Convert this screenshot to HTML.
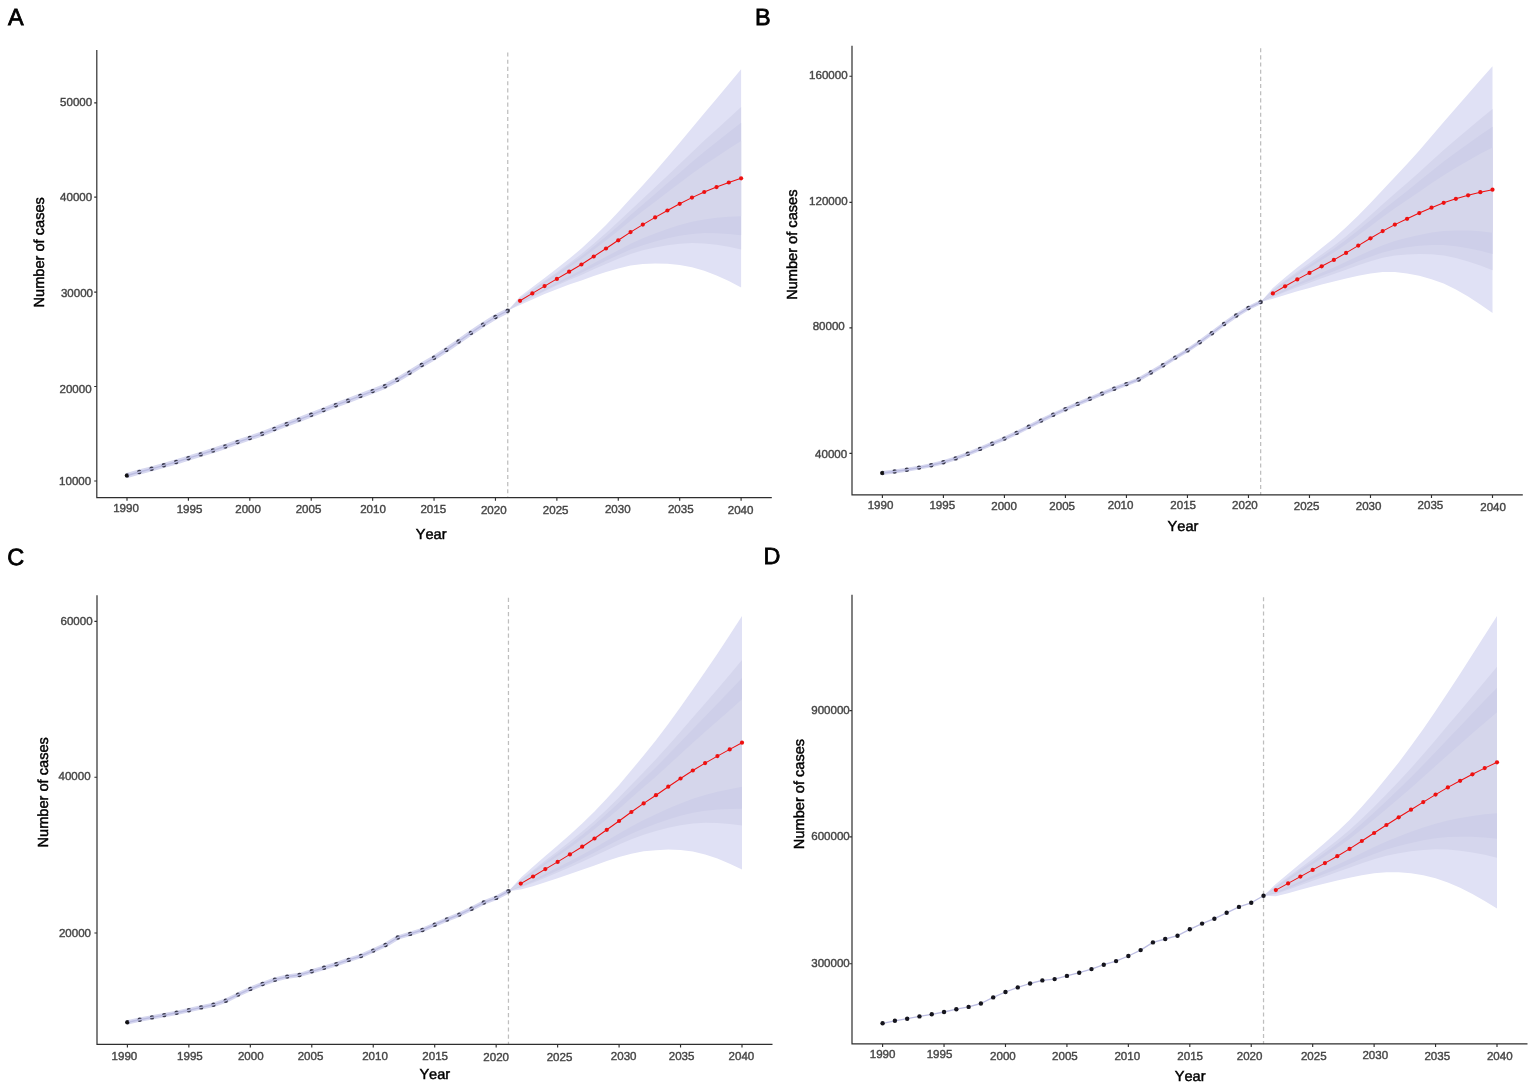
<!DOCTYPE html>
<html lang="en">
<head>
<meta charset="utf-8">
<title>Forecast of number of cases</title>
<style>
html,body{margin:0;padding:0;background:#fff;}
body{width:1535px;height:1089px;overflow:hidden;}
svg{display:block;font-family:'Liberation Sans', Arial, Helvetica, sans-serif;font-kerning:none;text-rendering:geometricPrecision;}
</style>
</head>
<body>
<svg width="1535" height="1089" viewBox="0 0 1535 1089">
<rect width="1535" height="1089" fill="#fff"/>
<g id="panelA">
<polygon fill="#e0e1f5" points="507.74,310.7 520.02,296.54 532.31,287.35 544.59,278.08 556.87,268.62 569.15,258.8 581.43,248.55 593.72,237.01 606,224.93 618.28,212.06 630.56,198.58 642.84,185.15 655.13,171.38 667.41,157.26 679.69,142.7 691.97,128.01 704.25,113.32 716.54,98.77 728.82,84 741.1,69.19 741.1,287.41 728.82,281 716.54,275.43 704.25,270.68 691.97,267.19 679.69,264.9 667.41,263.74 655.13,263.42 642.84,264.05 630.56,265.62 618.28,268.54 606,272.07 593.72,275.99 581.43,280.45 569.15,284.6 556.87,289.18 544.59,294.12 532.31,299.45 520.02,305.06 507.74,310.7"/>
<polygon fill="#d5d6ed" points="507.74,310.7 520.02,298.02 532.31,289.45 544.59,280.86 556.87,272.19 569.15,263.28 581.43,254.09 593.72,243.78 606,233.11 618.28,221.86 630.56,210.21 642.84,198.84 655.13,187.35 667.41,175.74 679.69,163.9 691.97,152.15 704.25,140.62 716.54,129.42 728.82,118.18 741.1,107.05 741.1,249.55 728.82,246.82 716.54,244.78 704.25,243.38 691.97,243.05 679.69,243.7 667.41,245.26 655.13,247.45 642.84,250.36 630.56,253.99 618.28,258.74 606,263.89 593.72,269.22 581.43,274.91 569.15,280.12 556.87,285.61 544.59,291.34 532.31,297.35 520.02,303.58 507.74,310.7"/>
<polygon fill="#cecfe9" points="507.74,310.7 520.02,298.63 532.31,290.32 544.59,282.01 556.87,273.66 569.15,265.12 581.43,256.37 593.72,246.56 606,236.48 618.28,225.9 630.56,215 642.84,204.48 655.13,193.93 667.41,183.35 679.69,172.64 691.97,162.11 704.25,151.87 716.54,142.05 728.82,132.27 741.1,122.65 741.1,235.26 728.82,233.91 716.54,233.21 704.25,233.07 691.97,233.93 679.69,235.7 667.41,238.29 655.13,241.42 642.84,245.19 630.56,249.6 618.28,255.04 606,260.8 593.72,266.67 581.43,272.82 569.15,278.43 556.87,284.27 544.59,290.29 532.31,296.56 520.02,303.02 507.74,310.7"/>
<polygon fill="#d5d6eb" points="507.74,310.7 520.02,299.34 532.31,291.33 544.59,283.36 556.87,275.38 569.15,267.29 581.43,259.05 593.72,249.84 606,240.44 618.28,230.64 630.56,220.64 642.84,211.11 655.13,201.66 667.41,192.29 679.69,182.9 691.97,173.8 704.25,165.09 716.54,156.89 728.82,148.81 741.1,140.98 741.1,216.27 728.82,216.78 716.54,217.84 704.25,219.38 691.97,221.82 679.69,225.06 667.41,229.03 655.13,233.41 642.84,238.33 630.56,243.77 618.28,250.13 606,256.7 593.72,263.28 581.43,270.05 569.15,276.19 556.87,282.48 544.59,288.89 532.31,295.5 520.02,302.28 507.74,310.7"/>
<polyline fill="none" stroke="#d7d8f0" stroke-width="5" stroke-linejoin="round" points="127,475.5 139.28,472 151.56,468.8 163.85,465.3 176.13,462 188.41,458.2 200.69,454.4 212.97,450.5 225.26,446.5 237.54,442.1 249.82,438 262.1,433.8 274.38,429 286.67,424.2 298.95,419.6 311.23,414.8 323.51,410 335.79,405.2 348.08,400.7 360.36,395.9 372.64,391.1 384.92,386.3 397.2,379.8 409.49,372.7 421.77,365 434.05,357.8 446.33,349.9 458.61,341.5 470.9,332.9 483.18,324.6 495.46,317 507.74,310.7"/>
<line x1="507.74" y1="52.5" x2="507.74" y2="497.7" stroke="#bebebe" stroke-width="1.25" stroke-dasharray="4.1 3.06"/>
<g fill="#3a3a4c"><circle cx="127" cy="475.5" r="2.2"/><circle cx="139.28" cy="472" r="2.2"/><circle cx="151.56" cy="468.8" r="2.2"/><circle cx="163.85" cy="465.3" r="2.2"/><circle cx="176.13" cy="462" r="2.2"/><circle cx="188.41" cy="458.2" r="2.2"/><circle cx="200.69" cy="454.4" r="2.2"/><circle cx="212.97" cy="450.5" r="2.2"/><circle cx="225.26" cy="446.5" r="2.2"/><circle cx="237.54" cy="442.1" r="2.2"/><circle cx="249.82" cy="438" r="2.2"/><circle cx="262.1" cy="433.8" r="2.2"/><circle cx="274.38" cy="429" r="2.2"/><circle cx="286.67" cy="424.2" r="2.2"/><circle cx="298.95" cy="419.6" r="2.2"/><circle cx="311.23" cy="414.8" r="2.2"/><circle cx="323.51" cy="410" r="2.2"/><circle cx="335.79" cy="405.2" r="2.2"/><circle cx="348.08" cy="400.7" r="2.2"/><circle cx="360.36" cy="395.9" r="2.2"/><circle cx="372.64" cy="391.1" r="2.2"/><circle cx="384.92" cy="386.3" r="2.2"/><circle cx="397.2" cy="379.8" r="2.2"/><circle cx="409.49" cy="372.7" r="2.2"/><circle cx="421.77" cy="365" r="2.2"/><circle cx="434.05" cy="357.8" r="2.2"/><circle cx="446.33" cy="349.9" r="2.2"/><circle cx="458.61" cy="341.5" r="2.2"/><circle cx="470.9" cy="332.9" r="2.2"/><circle cx="483.18" cy="324.6" r="2.2"/><circle cx="495.46" cy="317" r="2.2"/><circle cx="507.74" cy="310.7" r="2.2"/></g>
<polyline fill="none" stroke="#bcbde2" stroke-width="1.4" stroke-linejoin="round" points="127,475.5 139.28,472 151.56,468.8 163.85,465.3 176.13,462 188.41,458.2 200.69,454.4 212.97,450.5 225.26,446.5 237.54,442.1 249.82,438 262.1,433.8 274.38,429 286.67,424.2 298.95,419.6 311.23,414.8 323.51,410 335.79,405.2 348.08,400.7 360.36,395.9 372.64,391.1 384.92,386.3 397.2,379.8 409.49,372.7 421.77,365 434.05,357.8 446.33,349.9 458.61,341.5 470.9,332.9 483.18,324.6 495.46,317 507.74,310.7"/>
<circle cx="126.8" cy="475.5" r="1.85" fill="#111"/>
<polyline fill="none" stroke="#ee1111" stroke-width="1.05" points="520.02,300.8 532.31,293.4 544.59,286.1 556.87,278.9 569.15,271.7 581.43,264.5 593.72,256.5 606,248.5 618.28,240.3 630.56,232.1 642.84,224.6 655.13,217.4 667.41,210.5 679.69,203.8 691.97,197.6 704.25,192 716.54,187.1 728.82,182.5 741.1,178.3"/>
<g fill="#ee1111"><circle cx="520.02" cy="300.8" r="2.1"/><circle cx="532.31" cy="293.4" r="2.1"/><circle cx="544.59" cy="286.1" r="2.1"/><circle cx="556.87" cy="278.9" r="2.1"/><circle cx="569.15" cy="271.7" r="2.1"/><circle cx="581.43" cy="264.5" r="2.1"/><circle cx="593.72" cy="256.5" r="2.1"/><circle cx="606" cy="248.5" r="2.1"/><circle cx="618.28" cy="240.3" r="2.1"/><circle cx="630.56" cy="232.1" r="2.1"/><circle cx="642.84" cy="224.6" r="2.1"/><circle cx="655.13" cy="217.4" r="2.1"/><circle cx="667.41" cy="210.5" r="2.1"/><circle cx="679.69" cy="203.8" r="2.1"/><circle cx="691.97" cy="197.6" r="2.1"/><circle cx="704.25" cy="192" r="2.1"/><circle cx="716.54" cy="187.1" r="2.1"/><circle cx="728.82" cy="182.5" r="2.1"/><circle cx="741.1" cy="178.3" r="2.1"/></g>
<path d="M96.8 50V497.7H771.8" fill="none" stroke="#2e2e2e" stroke-width="1.2"/>
<path d="M127 497.7v3.1M188.41 497.7v3.1M249.82 497.7v3.1M311.23 497.7v3.1M372.64 497.7v3.1M434.05 497.7v3.1M495.46 497.7v3.1M556.87 497.7v3.1M618.28 497.7v3.1M679.69 497.7v3.1M741.1 497.7v3.1M96.8 481h-2.6M96.8 386.5h-2.6M96.8 292.1h-2.6M96.8 197.1h-2.6M96.8 102.8h-2.6" stroke="#2e2e2e" stroke-width="1.15" fill="none"/>
<g font-size="11.55" fill="#454545" stroke="#454545" stroke-width="0.4">
<text x="126" y="512" text-anchor="middle">1990</text>
<text x="189.5" y="512.9" text-anchor="middle">1995</text>
<text x="248.1" y="512.9" text-anchor="middle">2000</text>
<text x="308.5" y="512.9" text-anchor="middle">2005</text>
<text x="373" y="512.9" text-anchor="middle">2010</text>
<text x="433.3" y="512.9" text-anchor="middle">2015</text>
<text x="493.8" y="514.1" text-anchor="middle">2020</text>
<text x="555.7" y="513.6" text-anchor="middle">2025</text>
<text x="617.8" y="512.9" text-anchor="middle">2030</text>
<text x="680.8" y="512.9" text-anchor="middle">2035</text>
<text x="740.6" y="513.6" text-anchor="middle">2040</text>
<text x="91.2" y="484.7" text-anchor="end">10000</text>
<text x="91.6" y="392.7" text-anchor="end">20000</text>
<text x="93" y="297.2" text-anchor="end">30000</text>
<text x="92.2" y="200.8" text-anchor="end">40000</text>
<text x="92.2" y="106.4" text-anchor="end">50000</text>
</g>
<g fill="#000" stroke="#000" stroke-width="0.45">
<text x="431.1" y="538.9" font-size="14.6" text-anchor="middle">Year</text>
<text transform="translate(44.4 252.3) rotate(-90)" font-size="14.6" text-anchor="middle">Number of cases</text>
<text x="8" y="25" font-size="23.4" stroke-width="0.8">A</text>
</g>
</g>
<g id="panelB">
<polygon fill="#e0e1f5" points="1260.66,302.1 1272.86,287.97 1285.07,277.51 1297.27,267.49 1309.47,257.91 1321.67,248.09 1333.87,238.18 1346.08,227.24 1358.28,215.48 1370.48,203.09 1382.68,190.12 1394.88,177.12 1407.09,164.08 1419.29,150.39 1431.49,136.27 1443.69,121.99 1455.89,107.99 1468.1,93.98 1480.3,79.97 1492.5,66.29 1492.5,313.11 1480.3,304.43 1468.1,296.62 1455.89,289.61 1443.69,283.61 1431.49,279.13 1419.29,275.81 1407.09,273.52 1394.88,272.08 1382.68,272.08 1370.48,273.51 1358.28,275.72 1346.08,278.56 1333.87,281.62 1321.67,284.51 1309.47,287.89 1297.27,291.31 1285.07,295.09 1272.86,298.83 1260.66,302.1"/>
<polygon fill="#d5d6ed" points="1260.66,302.1 1272.86,289.85 1285.07,280.56 1297.27,271.62 1309.47,263.11 1321.67,254.41 1333.87,245.71 1346.08,236.15 1358.28,225.93 1370.48,215.31 1382.68,204.34 1394.88,193.6 1407.09,183.07 1419.29,172.15 1431.49,161.06 1443.69,150.03 1455.89,139.5 1468.1,129.14 1480.3,118.91 1492.5,109.12 1492.5,270.28 1480.3,265.49 1468.1,261.46 1455.89,258.1 1443.69,255.57 1431.49,254.34 1419.29,254.05 1407.09,254.53 1394.88,255.6 1382.68,257.86 1370.48,261.29 1358.28,265.27 1346.08,269.65 1333.87,274.09 1321.67,278.19 1309.47,282.69 1297.27,287.18 1285.07,292.04 1272.86,296.95 1260.66,302.1"/>
<polygon fill="#cecfe9" points="1260.66,302.1 1272.86,290.63 1285.07,281.82 1297.27,273.32 1309.47,265.25 1321.67,257.01 1333.87,248.82 1346.08,239.81 1358.28,230.24 1370.48,220.34 1382.68,210.2 1394.88,200.39 1407.09,190.89 1419.29,181.12 1431.49,171.27 1443.69,161.58 1455.89,152.49 1468.1,143.63 1480.3,134.96 1492.5,126.76 1492.5,254.12 1480.3,250.78 1468.1,248.19 1455.89,246.2 1443.69,244.98 1431.49,244.98 1419.29,245.84 1407.09,247.37 1394.88,249.38 1382.68,252.49 1370.48,256.68 1358.28,261.32 1346.08,266.29 1333.87,271.24 1321.67,275.81 1309.47,280.73 1297.27,285.62 1285.07,290.89 1272.86,296.24 1260.66,302.1"/>
<polygon fill="#d5d6eb" points="1260.66,302.1 1272.86,291.54 1285.07,283.29 1297.27,275.33 1309.47,267.77 1321.67,260.07 1333.87,252.47 1346.08,244.13 1358.28,235.3 1370.48,226.26 1382.68,217.08 1394.88,208.36 1407.09,200.08 1419.29,191.65 1431.49,183.27 1443.69,175.16 1455.89,167.74 1468.1,160.65 1480.3,153.82 1492.5,147.5 1492.5,232.65 1480.3,231.26 1468.1,230.56 1455.89,230.4 1443.69,230.92 1431.49,232.56 1419.29,234.92 1407.09,237.84 1394.88,241.12 1382.68,245.36 1370.48,250.55 1358.28,256.08 1346.08,261.83 1333.87,267.46 1321.67,272.64 1309.47,278.12 1297.27,283.55 1285.07,289.36 1272.86,295.29 1260.66,302.1"/>
<polyline fill="none" stroke="#d7d8f0" stroke-width="4" stroke-linejoin="round" points="882.4,473 894.6,471.5 906.8,469.7 919.01,467.6 931.21,465.3 943.41,462.2 955.61,458.4 967.81,453.8 980.02,448.9 992.22,443.7 1004.42,438.6 1016.62,432.9 1028.82,426.8 1041.03,420.6 1053.23,414.7 1065.43,409.2 1077.63,403.9 1089.83,398.8 1102.04,393.6 1114.24,388.7 1126.44,384.1 1138.64,379.5 1150.84,372.5 1163.05,365.3 1175.25,357.6 1187.45,350.4 1199.65,342.2 1211.85,333.2 1224.06,324 1236.26,315.5 1248.46,308 1260.66,302.1"/>
<line x1="1260.66" y1="48.2" x2="1260.66" y2="494.9" stroke="#bebebe" stroke-width="1.25" stroke-dasharray="4.1 3.06"/>
<g fill="#3a3a4c"><circle cx="882.4" cy="473" r="2.2"/><circle cx="894.6" cy="471.5" r="2.2"/><circle cx="906.8" cy="469.7" r="2.2"/><circle cx="919.01" cy="467.6" r="2.2"/><circle cx="931.21" cy="465.3" r="2.2"/><circle cx="943.41" cy="462.2" r="2.2"/><circle cx="955.61" cy="458.4" r="2.2"/><circle cx="967.81" cy="453.8" r="2.2"/><circle cx="980.02" cy="448.9" r="2.2"/><circle cx="992.22" cy="443.7" r="2.2"/><circle cx="1004.42" cy="438.6" r="2.2"/><circle cx="1016.62" cy="432.9" r="2.2"/><circle cx="1028.82" cy="426.8" r="2.2"/><circle cx="1041.03" cy="420.6" r="2.2"/><circle cx="1053.23" cy="414.7" r="2.2"/><circle cx="1065.43" cy="409.2" r="2.2"/><circle cx="1077.63" cy="403.9" r="2.2"/><circle cx="1089.83" cy="398.8" r="2.2"/><circle cx="1102.04" cy="393.6" r="2.2"/><circle cx="1114.24" cy="388.7" r="2.2"/><circle cx="1126.44" cy="384.1" r="2.2"/><circle cx="1138.64" cy="379.5" r="2.2"/><circle cx="1150.84" cy="372.5" r="2.2"/><circle cx="1163.05" cy="365.3" r="2.2"/><circle cx="1175.25" cy="357.6" r="2.2"/><circle cx="1187.45" cy="350.4" r="2.2"/><circle cx="1199.65" cy="342.2" r="2.2"/><circle cx="1211.85" cy="333.2" r="2.2"/><circle cx="1224.06" cy="324" r="2.2"/><circle cx="1236.26" cy="315.5" r="2.2"/><circle cx="1248.46" cy="308" r="2.2"/><circle cx="1260.66" cy="302.1" r="2.2"/></g>
<polyline fill="none" stroke="#bcbde2" stroke-width="1.4" stroke-linejoin="round" points="882.4,473 894.6,471.5 906.8,469.7 919.01,467.6 931.21,465.3 943.41,462.2 955.61,458.4 967.81,453.8 980.02,448.9 992.22,443.7 1004.42,438.6 1016.62,432.9 1028.82,426.8 1041.03,420.6 1053.23,414.7 1065.43,409.2 1077.63,403.9 1089.83,398.8 1102.04,393.6 1114.24,388.7 1126.44,384.1 1138.64,379.5 1150.84,372.5 1163.05,365.3 1175.25,357.6 1187.45,350.4 1199.65,342.2 1211.85,333.2 1224.06,324 1236.26,315.5 1248.46,308 1260.66,302.1"/>
<circle cx="882.2" cy="473" r="1.85" fill="#111"/>
<polyline fill="none" stroke="#ee1111" stroke-width="1.05" points="1272.86,293.4 1285.07,286.3 1297.27,279.4 1309.47,272.9 1321.67,266.3 1333.87,259.9 1346.08,252.9 1358.28,245.6 1370.48,238.3 1382.68,231.1 1394.88,224.6 1407.09,218.8 1419.29,213.1 1431.49,207.7 1443.69,202.8 1455.89,198.8 1468.1,195.3 1480.3,192.2 1492.5,189.7"/>
<g fill="#ee1111"><circle cx="1272.86" cy="293.4" r="2.1"/><circle cx="1285.07" cy="286.3" r="2.1"/><circle cx="1297.27" cy="279.4" r="2.1"/><circle cx="1309.47" cy="272.9" r="2.1"/><circle cx="1321.67" cy="266.3" r="2.1"/><circle cx="1333.87" cy="259.9" r="2.1"/><circle cx="1346.08" cy="252.9" r="2.1"/><circle cx="1358.28" cy="245.6" r="2.1"/><circle cx="1370.48" cy="238.3" r="2.1"/><circle cx="1382.68" cy="231.1" r="2.1"/><circle cx="1394.88" cy="224.6" r="2.1"/><circle cx="1407.09" cy="218.8" r="2.1"/><circle cx="1419.29" cy="213.1" r="2.1"/><circle cx="1431.49" cy="207.7" r="2.1"/><circle cx="1443.69" cy="202.8" r="2.1"/><circle cx="1455.89" cy="198.8" r="2.1"/><circle cx="1468.1" cy="195.3" r="2.1"/><circle cx="1480.3" cy="192.2" r="2.1"/><circle cx="1492.5" cy="189.7" r="2.1"/></g>
<path d="M852 45.7V494.9H1522.8" fill="none" stroke="#2e2e2e" stroke-width="1.2"/>
<path d="M882.4 494.9v3.1M943.41 494.9v3.1M1004.42 494.9v3.1M1065.43 494.9v3.1M1126.44 494.9v3.1M1187.45 494.9v3.1M1248.46 494.9v3.1M1309.47 494.9v3.1M1370.48 494.9v3.1M1431.49 494.9v3.1M1492.5 494.9v3.1M852 453.3h-2.6M852 327.8h-2.6M852 202.3h-2.6M852 76.2h-2.6" stroke="#2e2e2e" stroke-width="1.15" fill="none"/>
<g font-size="11.55" fill="#454545" stroke="#454545" stroke-width="0.4">
<text x="880.5" y="509.1" text-anchor="middle">1990</text>
<text x="942.3" y="509.1" text-anchor="middle">1995</text>
<text x="1004.1" y="509.8" text-anchor="middle">2000</text>
<text x="1062.2" y="510.3" text-anchor="middle">2005</text>
<text x="1120.6" y="509.3" text-anchor="middle">2010</text>
<text x="1183.2" y="509.3" text-anchor="middle">2015</text>
<text x="1244.9" y="508.9" text-anchor="middle">2020</text>
<text x="1306.6" y="509.6" text-anchor="middle">2025</text>
<text x="1368.6" y="509.6" text-anchor="middle">2030</text>
<text x="1430.4" y="509.3" text-anchor="middle">2035</text>
<text x="1493.1" y="510.5" text-anchor="middle">2040</text>
<text x="847.2" y="458.2" text-anchor="end">40000</text>
<text x="844.8" y="330.1" text-anchor="end">80000</text>
<text x="847.6" y="205.1" text-anchor="end">120000</text>
<text x="847.6" y="79.4" text-anchor="end">160000</text>
</g>
<g fill="#000" stroke="#000" stroke-width="0.45">
<text x="1183" y="531" font-size="14.6" text-anchor="middle">Year</text>
<text transform="translate(796.5 244.7) rotate(-90)" font-size="14.6" text-anchor="middle">Number of cases</text>
<text x="755" y="24.9" font-size="23.4" stroke-width="0.8">B</text>
</g>
</g>
<g id="panelC">
<polygon fill="#e0e1f5" points="508.45,891.2 520.74,877.65 533.04,866.8 545.33,855.99 557.62,845.53 569.91,834.75 582.2,823.56 594.5,811.54 606.79,798.55 619.08,784.89 631.37,770.37 643.66,755.51 655.96,740.27 668.25,723.91 680.54,707.01 692.83,689.49 705.12,671.75 717.42,653.64 729.71,635.12 742,615.97 742,869.43 729.71,863.68 717.42,858.56 705.12,854.45 692.83,851.51 680.54,849.99 668.25,849.49 655.96,850.13 643.66,851.29 631.37,853.63 619.08,857.11 606.79,861.05 594.5,865.46 582.2,869.84 569.91,874.05 557.62,878.27 545.33,882.21 533.04,886.2 520.74,889.55 508.45,891.2"/>
<polygon fill="#d5d6ed" points="508.45,891.2 520.74,879.72 533.04,870.16 545.33,860.54 557.62,851.21 569.91,841.57 582.2,831.59 594.5,820.9 606.79,809.4 619.08,797.42 631.37,784.82 643.66,772.13 655.96,759.33 668.25,745.7 680.54,731.82 692.83,717.6 705.12,703.45 717.42,689.19 729.71,674.77 742,659.94 742,825.46 729.71,824.03 717.42,823.01 705.12,822.75 692.83,823.4 680.54,825.18 668.25,827.7 655.96,831.07 643.66,834.67 631.37,839.18 619.08,844.58 606.79,850.2 594.5,856.1 582.2,861.81 569.91,867.23 557.62,872.59 545.33,877.66 533.04,882.84 520.74,887.48 508.45,891.2"/>
<polygon fill="#cecfe9" points="508.45,891.2 520.74,880.57 533.04,871.55 545.33,862.41 557.62,853.55 569.91,844.38 582.2,834.9 594.5,824.75 606.79,813.87 619.08,802.59 631.37,790.77 643.66,778.98 655.96,767.19 668.25,754.68 680.54,742.04 692.83,729.18 705.12,716.51 717.42,703.84 729.71,691.12 742,678.07 742,808.86 729.71,809.05 717.42,809.58 705.12,810.79 692.83,812.79 680.54,815.82 668.25,819.48 655.96,823.87 643.66,828.4 631.37,833.73 619.08,839.85 606.79,846.11 594.5,852.57 582.2,858.78 569.91,864.66 557.62,870.44 545.33,875.94 533.04,881.57 520.74,886.71 508.45,891.2"/>
<polygon fill="#d5d6eb" points="508.45,891.2 520.74,881.57 533.04,873.18 545.33,864.62 557.62,856.3 569.91,847.68 582.2,838.79 594.5,829.28 606.79,819.11 619.08,808.65 631.37,797.76 643.66,787.02 655.96,776.41 668.25,765.23 680.54,754.05 692.83,742.79 705.12,731.86 717.42,721.06 729.71,710.32 742,699.36 742,786.8 729.71,789.17 717.42,791.76 705.12,794.89 692.83,798.69 680.54,803.38 668.25,808.55 655.96,814.31 643.66,820.06 631.37,826.49 619.08,833.56 606.79,840.67 594.5,847.88 582.2,854.75 569.91,861.24 557.62,867.6 545.33,873.66 533.04,879.88 520.74,885.67 508.45,891.2"/>
<polyline fill="none" stroke="#d7d8f0" stroke-width="4.4" stroke-linejoin="round" points="127.4,1022.3 139.69,1019.7 151.98,1017.4 164.28,1015.1 176.57,1012.8 188.86,1010.2 201.15,1007.4 213.44,1004.8 225.74,1000.7 238.03,994.6 250.32,988.9 262.61,984 274.9,979.7 287.2,976.6 299.49,975 311.78,971.3 324.07,967.8 336.36,964.2 348.66,959.9 360.95,956 373.24,950.6 385.53,945 397.82,937.5 410.12,933.9 422.41,930 434.7,924.7 446.99,919.5 459.28,914.6 471.58,908.7 483.87,902.5 496.16,897.9 508.45,891.2"/>
<line x1="508.45" y1="597.8" x2="508.45" y2="1044.4" stroke="#bebebe" stroke-width="1.25" stroke-dasharray="4.1 3.06"/>
<g fill="#3a3a4c"><circle cx="127.4" cy="1022.3" r="2.2"/><circle cx="139.69" cy="1019.7" r="2.2"/><circle cx="151.98" cy="1017.4" r="2.2"/><circle cx="164.28" cy="1015.1" r="2.2"/><circle cx="176.57" cy="1012.8" r="2.2"/><circle cx="188.86" cy="1010.2" r="2.2"/><circle cx="201.15" cy="1007.4" r="2.2"/><circle cx="213.44" cy="1004.8" r="2.2"/><circle cx="225.74" cy="1000.7" r="2.2"/><circle cx="238.03" cy="994.6" r="2.2"/><circle cx="250.32" cy="988.9" r="2.2"/><circle cx="262.61" cy="984" r="2.2"/><circle cx="274.9" cy="979.7" r="2.2"/><circle cx="287.2" cy="976.6" r="2.2"/><circle cx="299.49" cy="975" r="2.2"/><circle cx="311.78" cy="971.3" r="2.2"/><circle cx="324.07" cy="967.8" r="2.2"/><circle cx="336.36" cy="964.2" r="2.2"/><circle cx="348.66" cy="959.9" r="2.2"/><circle cx="360.95" cy="956" r="2.2"/><circle cx="373.24" cy="950.6" r="2.2"/><circle cx="385.53" cy="945" r="2.2"/><circle cx="397.82" cy="937.5" r="2.2"/><circle cx="410.12" cy="933.9" r="2.2"/><circle cx="422.41" cy="930" r="2.2"/><circle cx="434.7" cy="924.7" r="2.2"/><circle cx="446.99" cy="919.5" r="2.2"/><circle cx="459.28" cy="914.6" r="2.2"/><circle cx="471.58" cy="908.7" r="2.2"/><circle cx="483.87" cy="902.5" r="2.2"/><circle cx="496.16" cy="897.9" r="2.2"/><circle cx="508.45" cy="891.2" r="2.2"/></g>
<polyline fill="none" stroke="#bcbde2" stroke-width="1.4" stroke-linejoin="round" points="127.4,1022.3 139.69,1019.7 151.98,1017.4 164.28,1015.1 176.57,1012.8 188.86,1010.2 201.15,1007.4 213.44,1004.8 225.74,1000.7 238.03,994.6 250.32,988.9 262.61,984 274.9,979.7 287.2,976.6 299.49,975 311.78,971.3 324.07,967.8 336.36,964.2 348.66,959.9 360.95,956 373.24,950.6 385.53,945 397.82,937.5 410.12,933.9 422.41,930 434.7,924.7 446.99,919.5 459.28,914.6 471.58,908.7 483.87,902.5 496.16,897.9 508.45,891.2"/>
<circle cx="127.2" cy="1022.3" r="1.85" fill="#111"/>
<polyline fill="none" stroke="#ee1111" stroke-width="1.05" points="520.74,883.6 533.04,876.5 545.33,869.1 557.62,861.9 569.91,854.4 582.2,846.7 594.5,838.5 606.79,829.8 619.08,821 631.37,812 643.66,803.4 655.96,795.2 668.25,786.7 680.54,778.5 692.83,770.5 705.12,763.1 717.42,756.1 729.71,749.4 742,742.7"/>
<g fill="#ee1111"><circle cx="520.74" cy="883.6" r="2.1"/><circle cx="533.04" cy="876.5" r="2.1"/><circle cx="545.33" cy="869.1" r="2.1"/><circle cx="557.62" cy="861.9" r="2.1"/><circle cx="569.91" cy="854.4" r="2.1"/><circle cx="582.2" cy="846.7" r="2.1"/><circle cx="594.5" cy="838.5" r="2.1"/><circle cx="606.79" cy="829.8" r="2.1"/><circle cx="619.08" cy="821" r="2.1"/><circle cx="631.37" cy="812" r="2.1"/><circle cx="643.66" cy="803.4" r="2.1"/><circle cx="655.96" cy="795.2" r="2.1"/><circle cx="668.25" cy="786.7" r="2.1"/><circle cx="680.54" cy="778.5" r="2.1"/><circle cx="692.83" cy="770.5" r="2.1"/><circle cx="705.12" cy="763.1" r="2.1"/><circle cx="717.42" cy="756.1" r="2.1"/><circle cx="729.71" cy="749.4" r="2.1"/><circle cx="742" cy="742.7" r="2.1"/></g>
<path d="M97 595.3V1044.4H772.5" fill="none" stroke="#2e2e2e" stroke-width="1.2"/>
<path d="M127.4 1044.4v3.1M188.86 1044.4v3.1M250.32 1044.4v3.1M311.78 1044.4v3.1M373.24 1044.4v3.1M434.7 1044.4v3.1M496.16 1044.4v3.1M557.62 1044.4v3.1M619.08 1044.4v3.1M680.54 1044.4v3.1M742 1044.4v3.1M97 933h-2.6M97 777.2h-2.6M97 621.3h-2.6" stroke="#2e2e2e" stroke-width="1.15" fill="none"/>
<g font-size="11.55" fill="#454545" stroke="#454545" stroke-width="0.4">
<text x="124.4" y="1060" text-anchor="middle">1990</text>
<text x="189.9" y="1060" text-anchor="middle">1995</text>
<text x="250.8" y="1060" text-anchor="middle">2000</text>
<text x="310.5" y="1060.4" text-anchor="middle">2005</text>
<text x="375" y="1060.4" text-anchor="middle">2010</text>
<text x="435.2" y="1060" text-anchor="middle">2015</text>
<text x="496.2" y="1061.4" text-anchor="middle">2020</text>
<text x="559.5" y="1061.4" text-anchor="middle">2025</text>
<text x="623.7" y="1060.2" text-anchor="middle">2030</text>
<text x="681.6" y="1060.2" text-anchor="middle">2035</text>
<text x="741.4" y="1060" text-anchor="middle">2040</text>
<text x="91" y="937.1" text-anchor="end">20000</text>
<text x="90.6" y="780" text-anchor="end">40000</text>
<text x="92.6" y="625.3" text-anchor="end">60000</text>
</g>
<g fill="#000" stroke="#000" stroke-width="0.45">
<text x="434.8" y="1078.9" font-size="14.6" text-anchor="middle">Year</text>
<text transform="translate(47.8 792.3) rotate(-90)" font-size="14.6" text-anchor="middle">Number of cases</text>
<text x="7.3" y="564.5" font-size="23.4" stroke-width="0.8">C</text>
</g>
</g>
<g id="panelD">
<polygon fill="#e0e1f5" points="1263.53,895.8 1275.82,884.07 1288.1,873.65 1300.39,863.39 1312.68,853.23 1324.97,842.77 1337.26,831.82 1349.54,819.93 1361.83,806.78 1374.12,792.74 1386.41,777.86 1398.7,762.39 1410.98,746.09 1423.27,728.88 1435.56,710.9 1447.85,692.4 1460.14,673.76 1472.42,654.61 1484.71,635.29 1497,616.06 1497,908.54 1484.71,900.91 1472.42,893.99 1460.14,887.84 1447.85,882.4 1435.56,878.3 1423.27,875.32 1410.98,873.31 1398.7,872.21 1386.41,872.14 1374.12,873.26 1361.83,875.22 1349.54,877.87 1337.26,880.58 1324.97,883.43 1312.68,886.57 1300.39,889.81 1288.1,893.15 1275.82,896.13 1263.53,895.8"/>
<polygon fill="#d5d6ed" points="1263.53,895.8 1275.82,886.16 1288.1,877.04 1300.39,867.97 1312.68,859.01 1324.97,849.82 1337.26,840.28 1349.54,829.98 1361.83,818.65 1374.12,806.71 1386.41,794.22 1398.7,781.44 1410.98,768.16 1423.27,754.29 1435.56,739.94 1447.85,725.36 1460.14,710.9 1472.42,696.14 1484.71,681.38 1497,666.81 1497,857.79 1484.71,854.82 1472.42,852.46 1460.14,850.7 1447.85,849.44 1435.56,849.26 1423.27,849.91 1410.98,851.24 1398.7,853.16 1386.41,855.78 1374.12,859.29 1361.83,863.35 1349.54,867.82 1337.26,872.12 1324.97,876.38 1312.68,880.79 1300.39,885.23 1288.1,889.76 1275.82,894.04 1263.53,895.8"/>
<polygon fill="#cecfe9" points="1263.53,895.8 1275.82,887.02 1288.1,878.43 1300.39,869.86 1312.68,861.4 1324.97,852.73 1337.26,843.77 1349.54,834.13 1361.83,823.55 1374.12,812.47 1386.41,800.96 1398.7,789.29 1410.98,777.26 1423.27,764.76 1435.56,751.91 1447.85,738.95 1460.14,726.21 1472.42,713.26 1484.71,700.37 1497,687.72 1497,838.64 1484.71,837.43 1472.42,836.78 1460.14,836.67 1447.85,836.99 1435.56,838.29 1423.27,840.32 1410.98,842.9 1398.7,845.97 1386.41,849.61 1374.12,854.01 1361.83,858.87 1349.54,864.02 1337.26,868.93 1324.97,873.71 1312.68,878.6 1300.39,883.5 1288.1,888.49 1275.82,893.25 1263.53,895.8"/>
<polygon fill="#d5d6eb" points="1263.53,895.8 1275.82,888.04 1288.1,880.07 1300.39,872.08 1312.68,864.2 1324.97,856.15 1337.26,847.86 1349.54,838.99 1361.83,829.3 1374.12,819.23 1386.41,808.88 1398.7,798.52 1410.98,787.95 1423.27,777.06 1435.56,765.97 1447.85,754.91 1460.14,744.19 1472.42,733.37 1484.71,722.68 1497,712.29 1497,813.19 1484.71,814.32 1472.42,815.95 1460.14,818.05 1447.85,820.46 1435.56,823.73 1423.27,827.58 1410.98,831.84 1398.7,836.41 1386.41,841.4 1374.12,847.01 1361.83,852.91 1349.54,858.98 1337.26,864.68 1324.97,870.18 1312.68,875.7 1300.39,881.2 1288.1,886.79 1275.82,892.2 1263.53,895.8"/>
<line x1="1263.53" y1="597.2" x2="1263.53" y2="1043.9" stroke="#bebebe" stroke-width="1.25" stroke-dasharray="4.1 3.06"/>
<polyline fill="none" stroke="#bcbde2" stroke-width="1.3" stroke-linejoin="round" points="882.6,1023.3 894.89,1020.8 907.18,1018.7 919.46,1016.4 931.75,1014.3 944.04,1012 956.33,1009.2 968.62,1006.9 980.9,1003.5 993.19,997.4 1005.48,992 1017.77,987.4 1030.06,983.5 1042.34,980.4 1054.63,979.1 1066.92,975.9 1079.21,972.7 1091.5,969.1 1103.78,964.7 1116.07,961.1 1128.36,956 1140.65,950.1 1152.94,942.4 1165.22,939 1177.51,935.7 1189.8,929.3 1202.09,923.6 1214.38,918.7 1226.66,912.8 1238.95,906.9 1251.24,902.8 1263.53,895.8"/>
<g fill="#15151d"><circle cx="882.6" cy="1023.3" r="2.2"/><circle cx="894.89" cy="1020.8" r="2.2"/><circle cx="907.18" cy="1018.7" r="2.2"/><circle cx="919.46" cy="1016.4" r="2.2"/><circle cx="931.75" cy="1014.3" r="2.2"/><circle cx="944.04" cy="1012" r="2.2"/><circle cx="956.33" cy="1009.2" r="2.2"/><circle cx="968.62" cy="1006.9" r="2.2"/><circle cx="980.9" cy="1003.5" r="2.2"/><circle cx="993.19" cy="997.4" r="2.2"/><circle cx="1005.48" cy="992" r="2.2"/><circle cx="1017.77" cy="987.4" r="2.2"/><circle cx="1030.06" cy="983.5" r="2.2"/><circle cx="1042.34" cy="980.4" r="2.2"/><circle cx="1054.63" cy="979.1" r="2.2"/><circle cx="1066.92" cy="975.9" r="2.2"/><circle cx="1079.21" cy="972.7" r="2.2"/><circle cx="1091.5" cy="969.1" r="2.2"/><circle cx="1103.78" cy="964.7" r="2.2"/><circle cx="1116.07" cy="961.1" r="2.2"/><circle cx="1128.36" cy="956" r="2.2"/><circle cx="1140.65" cy="950.1" r="2.2"/><circle cx="1152.94" cy="942.4" r="2.2"/><circle cx="1165.22" cy="939" r="2.2"/><circle cx="1177.51" cy="935.7" r="2.2"/><circle cx="1189.8" cy="929.3" r="2.2"/><circle cx="1202.09" cy="923.6" r="2.2"/><circle cx="1214.38" cy="918.7" r="2.2"/><circle cx="1226.66" cy="912.8" r="2.2"/><circle cx="1238.95" cy="906.9" r="2.2"/><circle cx="1251.24" cy="902.8" r="2.2"/><circle cx="1263.53" cy="895.8" r="2.2"/></g>
<polyline fill="none" stroke="#ee1111" stroke-width="1.05" points="1275.82,890.1 1288.1,883.4 1300.39,876.6 1312.68,869.9 1324.97,863.1 1337.26,856.2 1349.54,848.9 1361.83,841 1374.12,833 1386.41,825 1398.7,817.3 1410.98,809.7 1423.27,802.1 1435.56,794.6 1447.85,787.4 1460.14,780.8 1472.42,774.3 1484.71,768.1 1497,762.3"/>
<g fill="#ee1111"><circle cx="1275.82" cy="890.1" r="2.1"/><circle cx="1288.1" cy="883.4" r="2.1"/><circle cx="1300.39" cy="876.6" r="2.1"/><circle cx="1312.68" cy="869.9" r="2.1"/><circle cx="1324.97" cy="863.1" r="2.1"/><circle cx="1337.26" cy="856.2" r="2.1"/><circle cx="1349.54" cy="848.9" r="2.1"/><circle cx="1361.83" cy="841" r="2.1"/><circle cx="1374.12" cy="833" r="2.1"/><circle cx="1386.41" cy="825" r="2.1"/><circle cx="1398.7" cy="817.3" r="2.1"/><circle cx="1410.98" cy="809.7" r="2.1"/><circle cx="1423.27" cy="802.1" r="2.1"/><circle cx="1435.56" cy="794.6" r="2.1"/><circle cx="1447.85" cy="787.4" r="2.1"/><circle cx="1460.14" cy="780.8" r="2.1"/><circle cx="1472.42" cy="774.3" r="2.1"/><circle cx="1484.71" cy="768.1" r="2.1"/><circle cx="1497" cy="762.3" r="2.1"/></g>
<path d="M852 594.7V1043.9H1527.5" fill="none" stroke="#2e2e2e" stroke-width="1.2"/>
<path d="M882.6 1043.9v3.1M944.04 1043.9v3.1M1005.48 1043.9v3.1M1066.92 1043.9v3.1M1128.36 1043.9v3.1M1189.8 1043.9v3.1M1251.24 1043.9v3.1M1312.68 1043.9v3.1M1374.12 1043.9v3.1M1435.56 1043.9v3.1M1497 1043.9v3.1M852 963.7h-2.6M852 836.9h-2.6M852 710.6h-2.6" stroke="#2e2e2e" stroke-width="1.15" fill="none"/>
<g font-size="11.55" fill="#454545" stroke="#454545" stroke-width="0.4">
<text x="882.6" y="1057.6" text-anchor="middle">1990</text>
<text x="939.5" y="1058.3" text-anchor="middle">1995</text>
<text x="1002.9" y="1059.5" text-anchor="middle">2000</text>
<text x="1064.9" y="1059.5" text-anchor="middle">2005</text>
<text x="1127.3" y="1059.5" text-anchor="middle">2010</text>
<text x="1190.2" y="1059.5" text-anchor="middle">2015</text>
<text x="1249.6" y="1059.5" text-anchor="middle">2020</text>
<text x="1313.8" y="1060.4" text-anchor="middle">2025</text>
<text x="1375.3" y="1059" text-anchor="middle">2030</text>
<text x="1437.3" y="1059.5" text-anchor="middle">2035</text>
<text x="1499.8" y="1059.5" text-anchor="middle">2040</text>
<text x="849.8" y="967.4" text-anchor="end">300000</text>
<text x="849.8" y="839.5" text-anchor="end">600000</text>
<text x="849.8" y="713.8" text-anchor="end">900000</text>
</g>
<g fill="#000" stroke="#000" stroke-width="0.45">
<text x="1190.1" y="1080.7" font-size="14.6" text-anchor="middle">Year</text>
<text transform="translate(803.5 794) rotate(-90)" font-size="14.6" text-anchor="middle">Number of cases</text>
<text x="763.5" y="563.8" font-size="23.4" stroke-width="0.8">D</text>
</g>
</g>
</svg>
</body>
</html>
